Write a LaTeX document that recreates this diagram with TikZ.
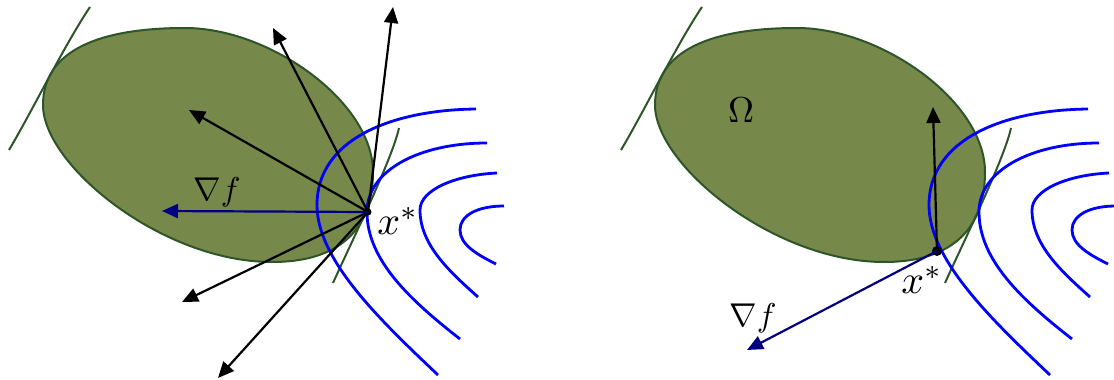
\documentclass[tikz,border=0pt]{standalone}
\usepackage{graphicx}
\usetikzlibrary{arrows.meta}
\definecolor{regionfill}{RGB}{118,136,74}
\definecolor{regionedge}{RGB}{45,85,40}
\definecolor{gradblue}{RGB}{0,0,128}
\tikzset{
  region/.style={fill=regionfill, draw=regionedge, line width=2pt},
  arcline/.style={draw=regionedge, line width=2pt},
  level/.style={draw=blue, line width=2.8pt},
  vec/.style={draw=black, line width=2.2pt, -{Triangle[length=16pt,width=14pt]}},
  gradvec/.style={draw=gradblue, line width=2.2pt, -{Triangle[length=16pt,width=14pt]}},
  dot/.style={circle, fill=black, inner sep=0pt, minimum size=#1},
  lbl/.style={inner sep=0pt},
}
\newcommand\bigmath[2]{\scalebox{#1}{$#2$}}
\newcommand\panelbase{%
  \path[region] (43,105) .. controls (43,50) and (100,28) .. (185,28)
     .. controls (270,28) and (373,102) .. (373,172)
     .. controls (373,227) and (342,262) .. (272,262)
     .. controls (162,262) and (43,165) .. cycle;
  \draw[arcline] (90,7) .. controls (65,44) and (30,115) .. (9,150);
  \draw[arcline] (399,128) .. controls (392,160) and (350,245) .. (333,283);
  \draw[level] (476,109) .. controls (390,110) and (317,140) .. (317,205)
               .. controls (317,260) and (380,320) .. (438,375);
  \draw[level] (487,143) .. controls (420,143) and (367,170) .. (367,212)
               .. controls (367,260) and (410,300) .. (460,339);
  \draw[level] (497,173) .. controls (455,175) and (420,190) .. (420,210)
               .. controls (420,245) and (450,272) .. (478,297);
  \draw[level] (504,206) .. controls (478,206) and (460,215) .. (460,230)
               .. controls (460,245) and (478,255) .. (496,264);
}
\begin{document}
\begin{tikzpicture}[x=1pt,y=-1pt]
\useasboundingbox (0,0) rectangle (1114,380);
% left panel
\panelbase
\node[dot=7pt] (xa) at (368,212) {};
\coordinate (a1) at (273,28);
\coordinate (a2) at (393,7);
\coordinate (a3) at (189,110);
\coordinate (a4) at (182,302);
\coordinate (a5) at (218,378);
\coordinate (ga) at (162,211);
\draw[vec] (xa.center) -- (a1);
\draw[vec] (xa.center) -- (a2);
\draw[vec] (xa.center) -- (a3);
\draw[vec] (xa.center) -- (a4);
\draw[vec] (xa.center) -- (a5);
\draw[gradvec] (xa.center) -- (ga);
\node[lbl] (gla) at (217,192) {\bigmath{3.3}{\nabla f}};
\node[lbl] (xla) at (398,221) {\bigmath{4}{x^*}};
% right panel
\begin{scope}[shift={(612,0)}]
\panelbase
\end{scope}
\node[dot=10pt] (xb) at (937,251) {};
\coordinate (b1) at (933,107);
\coordinate (gb) at (747,350);
\draw[vec] (xb.center) -- (b1);
\draw[gradvec] (xb.center) -- (gb);
\node[lbl] (glb) at (753,318) {\bigmath{3.3}{\nabla f}};
\node[lbl] (om) at (741,110) {\bigmath{3.6}{\Omega}};
\node[lbl] (xlb) at (922,280) {\bigmath{4}{x^*}};
\end{tikzpicture}
\end{document}
